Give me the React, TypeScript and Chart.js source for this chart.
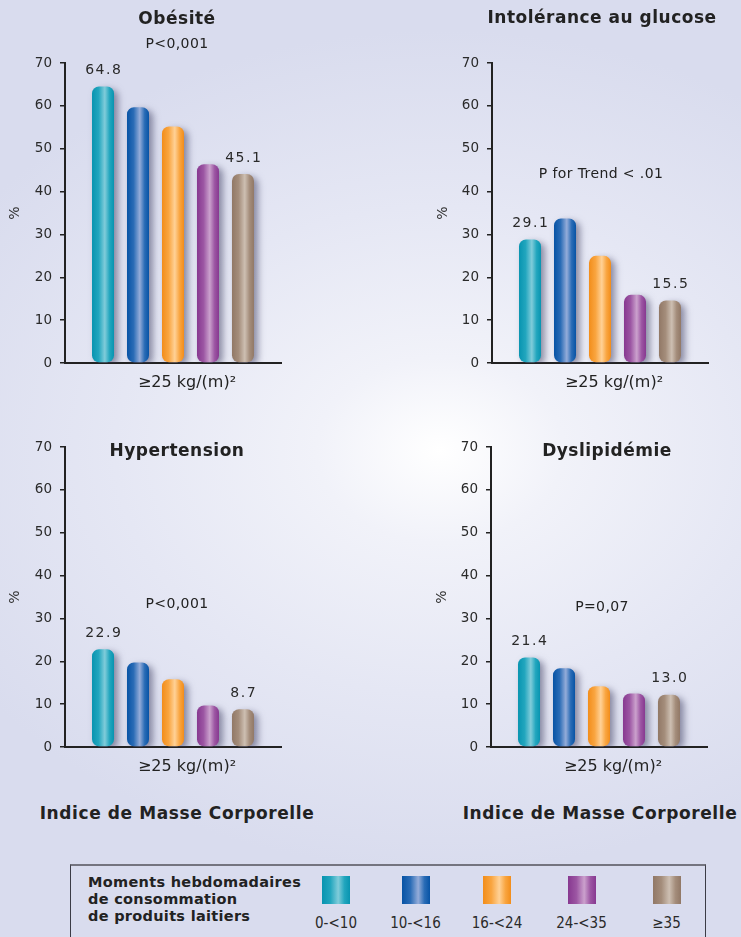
import React, { useEffect, useRef } from 'react';
import { Chart, registerables } from 'chart.js';

Chart.register(...registerables);
Chart.defaults.font.family = '"DejaVu Sans", sans-serif';

// ---------------- DATA ----------------
const groups = ['0-<10', '10-<16', '16-<24', '24-<35', '≥35'];
const xCategory = ['≥25 kg/(m)²'];
const yAxisTitle = '%';
const yMin = 0;
const yMax = 70;
const yStep = 10;

const obesiteValues = [64.5, 59.7, 55.2, 46.4, 44.1];
const obesiteLabels = ['64.8', '', '', '', '45.1'];

const glucoseValues = [28.8, 33.7, 25.0, 15.9, 14.6];
const glucoseLabels = ['29.1', '', '', '', '15.5'];

const hypertensionValues = [22.8, 19.7, 15.8, 9.7, 8.8];
const hypertensionLabels = ['22.9', '', '', '', '8.7'];

const dyslipidemieValues = [20.9, 18.4, 14.2, 12.5, 12.2];
const dyslipidemieLabels = ['21.4', '', '', '', '13.0'];

const panelTitles = ['Obésité', 'Intolérance au glucose', 'Hypertension', 'Dyslipidémie'];
const pValues = ['P<0,001', 'P for Trend < .01', 'P<0,001', 'P=0,07'];
const footerTitle = 'Indice de Masse Corporelle';
const legendTitle = ['Moments hebdomadaires', 'de consommation', 'de produits laitiers'];

// ---------------- STYLE / LAYOUT ----------------
const palette = [
  { dark: '#0894b0', mid: '#22a6be', light: '#80ccda' },
  { dark: '#0753a5', mid: '#2a6cb6', light: '#94acd9' },
  { dark: '#f28d1a', mid: '#f9a540', light: '#ffd196' },
  { dark: '#873890', mid: '#9c56a3', light: '#cba1cd' },
  { dark: '#917866', mid: '#a48d7b', light: '#cdbfb2' },
];

const panels = [
  { values: obesiteValues, labels: obesiteLabels, left: 0, top: 0, width: 370, height: 400, axisW: 65, pad: { left: 0, top: 63, right: 89, bottom: 7 } },
  { values: glucoseValues, labels: glucoseLabels, left: 428, top: 0, width: 313, height: 400, axisW: 64, pad: { left: 0, top: 63, right: 33, bottom: 7 } },
  { values: hypertensionValues, labels: hypertensionLabels, left: 0, top: 400, width: 370, height: 400, axisW: 65, pad: { left: 0, top: 47, right: 89, bottom: 23 } },
  { values: dyslipidemieValues, labels: dyslipidemieLabels, left: 427, top: 400, width: 314, height: 400, axisW: 64, pad: { left: 0, top: 47, right: 34, bottom: 23 } },
];

const titlePos = [
  { x: 177, y: 18 },
  { x: 602, y: 17 },
  { x: 177, y: 450 },
  { x: 607, y: 450 },
];
const pPos = [
  { x: 177, y: 43 },
  { x: 601, y: 173 },
  { x: 177, y: 603 },
  { x: 602, y: 606 },
];
const footerPos = [
  { x: 177, y: 813 },
  { x: 600, y: 813 },
];
const legendCenters = [336, 415.5, 497, 581.5, 666.5];

const gradientPlugin = {
  id: 'cylGradient',
  beforeDatasetsDraw(chart: any) {
    const ctx = chart.ctx as CanvasRenderingContext2D;
    chart.data.datasets.forEach((_ds: any, i: number) => {
      const meta = chart.getDatasetMeta(i);
      const c = palette[i];
      meta.data.forEach((el: any) => {
        const w = el.width;
        const g = ctx.createLinearGradient(el.x - w / 2, 0, el.x + w / 2, 0);
        g.addColorStop(0, c.dark);
        g.addColorStop(0.3, c.mid);
        g.addColorStop(0.58, c.light);
        g.addColorStop(0.8, c.mid);
        g.addColorStop(1, c.dark);
        el.options = Object.assign({}, el.options, { backgroundColor: g });
      });
    });
  },
};

const shadowPlugin = {
  id: 'barShadow',
  beforeDatasetsDraw(chart: any) {
    const ctx = chart.ctx as CanvasRenderingContext2D;
    ctx.save();
    ctx.shadowColor = 'rgba(60, 60, 95, 0.55)';
    ctx.shadowBlur = 7;
    ctx.shadowOffsetX = 4;
    ctx.shadowOffsetY = 3;
  },
  afterDatasetsDraw(chart: any) {
    chart.ctx.restore();
  },
};

function makeValueLabelPlugin(labels: string[]) {
  return {
    id: 'valueLabels',
    afterDraw(chart: any) {
      const ctx = chart.ctx as CanvasRenderingContext2D;
      ctx.save();
      ctx.font = '14px "DejaVu Sans"';
      ctx.fillStyle = '#2a2a2a';
      ctx.textAlign = 'center';
      ctx.textBaseline = 'middle';
      (ctx as any).letterSpacing = '1.5px';
      chart.data.datasets.forEach((_ds: any, i: number) => {
        const t = labels[i];
        if (!t) return;
        const el = chart.getDatasetMeta(i).data[0];
        ctx.fillText(t, el.x + 0.75, el.y - 16);
      });
      ctx.restore();
    },
  };
}

function BarPanel({ panel }: { panel: any }) {
  const ref = useRef<HTMLCanvasElement>(null);
  useEffect(() => {
    const chart = new Chart(ref.current as HTMLCanvasElement, {
      type: 'bar',
      data: {
        labels: xCategory,
        datasets: groups.map((g, i) => ({
          label: g,
          data: [panel.values[i]],
          backgroundColor: palette[i].dark,
          borderRadius: 7,
          borderSkipped: false,
        })),
      },
      options: {
        animation: false,
        responsive: false,
        maintainAspectRatio: false,
        layout: { padding: panel.pad },
        datasets: { bar: { categoryPercentage: 0.81, barPercentage: 0.629 } },
        plugins: {
          legend: { display: false },
          tooltip: { enabled: false },
        },
        scales: {
          x: {
            grid: { display: false, drawTicks: false },
            border: { display: true, color: '#222', width: 2 },
            ticks: { padding: 10, labelOffset: 14, color: '#222', font: { size: 16 } },
            afterFit: (s: any) => {
              s.height = 30;
            },
          },
          y: {
            min: yMin,
            max: yMax,
            ticks: { stepSize: yStep, padding: 8, color: '#2a2a2a', font: { size: 13.5 } },
            grid: { drawOnChartArea: false, drawTicks: true, tickLength: 5, color: '#222', lineWidth: 1.5 },
            border: { display: true, color: '#222', width: 2 },
            title: { display: true, text: yAxisTitle, color: '#333', font: { size: 14 }, padding: { top: 7, bottom: 0 } },
            afterFit: (s: any) => {
              s.width = panel.axisW;
            },
          },
        },
      } as any,
      plugins: [gradientPlugin, shadowPlugin, makeValueLabelPlugin(panel.labels)],
    });
    return () => chart.destroy();
  }, []);
  return (
    <canvas
      ref={ref}
      width={panel.width}
      height={panel.height}
      style={{ position: 'absolute', left: panel.left, top: panel.top, width: panel.width, height: panel.height }}
    />
  );
}

function Label({ x, y, text, bold, size, spacing }: any) {
  return (
    <div
      style={{
        position: 'absolute',
        left: x,
        top: y,
        transform: 'translate(-50%, -50%)',
        whiteSpace: 'nowrap',
        fontFamily: '"DejaVu Sans", sans-serif',
        fontWeight: bold ? 700 : 400,
        fontSize: size,
        letterSpacing: spacing,
        color: '#222',
        lineHeight: 1,
      }}
    >
      {text}
    </div>
  );
}

export default function App() {
  return (
    <div
      style={{
        position: 'absolute',
        left: 0,
        top: 0,
        width: 741,
        height: 937,
        overflow: 'hidden',
        background:
          'radial-gradient(ellipse 560px 420px at 440px 450px, #ffffff 0%, #f1f2f9 22%, #e5e7f4 58%, #d9dcee 100%)',
      }}
    >
      {panels.map((p, i) => (
        <BarPanel key={i} panel={p} />
      ))}
      {panelTitles.map((t, i) => (
        <Label key={'t' + i} x={titlePos[i].x} y={titlePos[i].y} text={t} bold size={17} spacing="0.5px" />
      ))}
      {pValues.map((t, i) => (
        <Label key={'p' + i} x={pPos[i].x} y={pPos[i].y} text={t} size={14} spacing="0.4px" />
      ))}
      {footerPos.map((pos, i) => (
        <Label key={'f' + i} x={pos.x} y={pos.y} text={footerTitle} bold size={17} spacing="0.6px" />
      ))}
      <div
        style={{
          position: 'absolute',
          left: 70,
          top: 864,
          width: 636,
          height: 90,
          boxSizing: 'border-box',
          borderTop: '2px solid #74747f',
          borderLeft: '1px solid #3c3c46',
          borderRight: '1px solid #3c3c46',
        }}
      />
      <div
        style={{
          position: 'absolute',
          left: 88,
          top: 874,
          fontFamily: '"DejaVu Sans", sans-serif',
          fontWeight: 700,
          fontSize: 14.5,
          letterSpacing: '0.3px',
          lineHeight: '17px',
          color: '#222',
          whiteSpace: 'nowrap',
        }}
      >
        {legendTitle.map((l, i) => (
          <div key={i}>{l}</div>
        ))}
      </div>
      {groups.map((g, i) => (
        <React.Fragment key={'lg' + i}>
          <div
            style={{
              position: 'absolute',
              left: legendCenters[i] - 14,
              top: 876,
              width: 28,
              height: 28,
              background: `linear-gradient(90deg, ${palette[i].dark} 0%, ${palette[i].mid} 30%, ${palette[i].light} 58%, ${palette[i].mid} 80%, ${palette[i].dark} 100%)`,
            }}
          />
          <div
            style={{
              position: 'absolute',
              left: legendCenters[i],
              top: 923,
              transform: 'translate(-50%, -50%)',
              whiteSpace: 'nowrap',
              fontFamily: '"DejaVu Sans Condensed", "DejaVu Sans", sans-serif',
              fontSize: 15,
              color: '#2a2a2a',
              lineHeight: 1,
            }}
          >
            {g}
          </div>
        </React.Fragment>
      ))}
    </div>
  );
}
